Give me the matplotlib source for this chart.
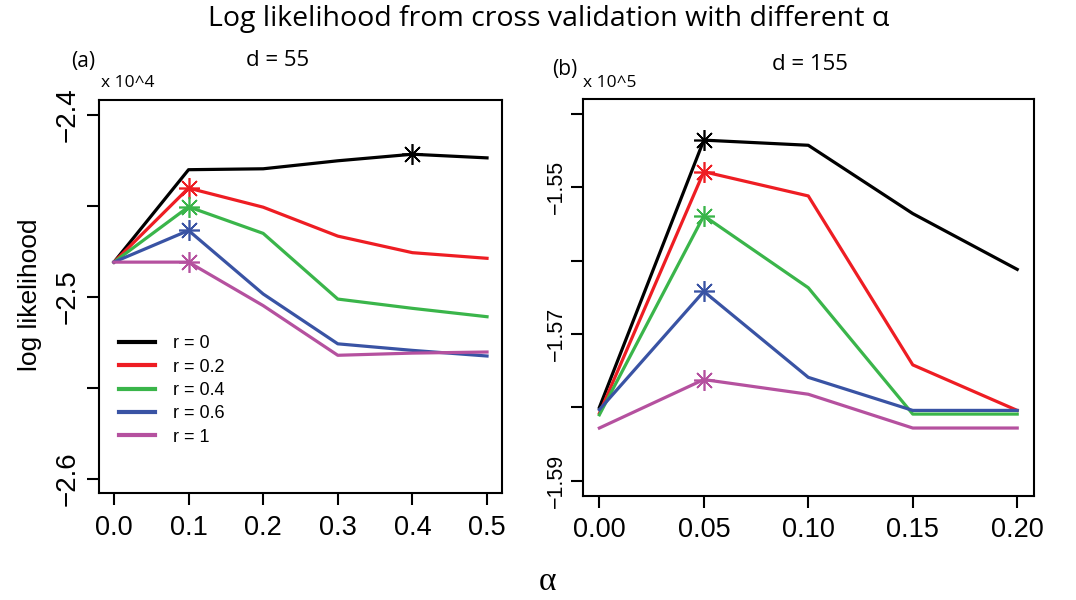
import numpy as np
import matplotlib
matplotlib.use('Agg')
import matplotlib.pyplot as plt

plt.rcParams['font.family'] = ['Liberation Sans', 'DejaVu Sans']

# panel (a): d = 55, values in units of 10^4
alpha_a = [0.0, 0.1, 0.2, 0.3, 0.4, 0.5]
a_r0 = [-2.481, -2.4302, -2.4297, -2.4253, -2.4217, -2.4237]
a_r02 = [-2.481, -2.4403, -2.4508, -2.4667, -2.4758, -2.4789]
a_r04 = [-2.481, -2.4506, -2.4652, -2.5013, -2.5064, -2.5110]
a_r06 = [-2.481, -2.4636, -2.4985, -2.5259, -2.5295, -2.5326]
a_r1 = [-2.481, -2.4810, -2.5049, -2.5322, -2.5310, -2.5304]
a_best = [4, 1, 1, 1, 1]   # index of the starred point

# panel (b): d = 155, values in units of 10^5
alpha_b = [0.00, 0.05, 0.10, 0.15, 0.20]
b_r0 = [-1.5800, -1.5436, -1.5443, -1.5536, -1.5612]
b_r02 = [-1.5808, -1.5479, -1.5512, -1.5742, -1.5804]
b_r04 = [-1.5810, -1.5539, -1.5637, -1.5809, -1.5809]
b_r06 = [-1.5803, -1.5642, -1.5759, -1.5804, -1.5804]
b_r1 = [-1.5828, -1.5762, -1.5782, -1.5828, -1.5828]
b_best = [1, 1, 1, 1, 1]

labels = ['r = 0', 'r = 0.2', 'r = 0.4', 'r = 0.6', 'r = 1']
colors = ['black', '#EE1D23', '#3AB54A', '#3953A4', '#B5519F']

star = (8, 2, 0)
tfont = ['Open Sans', 'DejaVu Sans']

fig = plt.figure(figsize=(10.76, 6), dpi=100)
ax1 = fig.add_axes([0.092, 0.178, 0.3745, 0.655])
ax2 = fig.add_axes([0.5415, 0.174, 0.4194, 0.661])


def draw(ax, x, series, best):
    for ys, c, lab, b in zip(series, colors, labels, best):
        ax.plot(x, ys, color=c, lw=2.3, label=lab, zorder=3)
        ax.plot(x[b], ys[b], marker=star, color=c, ms=15, mew=1.2,
                ls='none', zorder=4)


draw(ax1, alpha_a, [a_r0, a_r02, a_r04, a_r06, a_r1], a_best)
draw(ax2, alpha_b, [b_r0, b_r02, b_r04, b_r06, b_r1], b_best)

ax1.set_xlim(-0.02, 0.52)
ax1.set_ylim(-2.608, -2.392)
ax1.set_xticks(alpha_a)
ax1.set_xticklabels(['0.0', '0.1', '0.2', '0.3', '0.4', '0.5'])
ax1.set_yticks([-2.6, -2.55, -2.5, -2.45, -2.4])
ax1.set_yticklabels(['\u22122.6', '', '\u22122.5', '', '\u22122.4'],
                    rotation=90, va='center')

ax2.set_xlim(-0.008, 0.208)
ax2.set_ylim(-1.592, -1.538)
ax2.set_xticks(alpha_b)
ax2.set_xticklabels(['0.00', '0.05', '0.10', '0.15', '0.20'])
ax2.set_yticks([-1.59, -1.58, -1.57, -1.56, -1.55, -1.54])
ax2.set_yticklabels(['\u22121.59', '', '\u22121.57', '', '\u22121.55', ''],
                    rotation=90, va='center')

for ax in (ax1, ax2):
    for s in ax.spines.values():
        s.set_linewidth(1.5)
    ax.tick_params(direction='out', length=8.5, width=1.5, pad=6)
    ax.tick_params(axis='x', labelsize=19.5, pad=7)
ax1.tick_params(axis='y', labelsize=20, pad=5)
ax2.tick_params(axis='y', labelsize=15.5, pad=3)

leg = ax1.legend(loc='lower left', bbox_to_anchor=(0.01, 0.08), frameon=False,
                 fontsize=13, handlelength=2.0, handletextpad=1.0,
                 labelspacing=0.35)
for line in leg.get_lines():
    line.set_linewidth(3)

fig.text(0.51, 0.968, 'Log likelihood from cross validation with different \u03b1',
         ha='center', va='center', fontsize=20.5, family=tfont)
fig.text(0.077, 0.897, '(a)', ha='center', va='center', fontsize=15,
         family=tfont)
fig.text(0.1185, 0.862, 'x 10^4', ha='center', va='center', fontsize=12.5,
         family=tfont)
fig.text(0.258, 0.9, 'd = 55', ha='center', va='center', fontsize=16,
         family=tfont)
fig.text(0.525, 0.885, '(b)', ha='center', va='center', fontsize=15,
         family=tfont)
fig.text(0.567, 0.862, 'x 10^5', ha='center', va='center', fontsize=12.5,
         family=tfont)
fig.text(0.753, 0.893, 'd = 155', ha='center', va='center', fontsize=16,
         family=tfont)
fig.text(0.028, 0.508, 'log likelihood', ha='center', va='center',
         rotation=90, fontsize=19)
fig.text(0.509, 0.03, '\u03b1', ha='center', va='center', fontsize=24,
         family=['Liberation Serif', 'DejaVu Serif'])

fig.savefig('out.png', dpi=100)
